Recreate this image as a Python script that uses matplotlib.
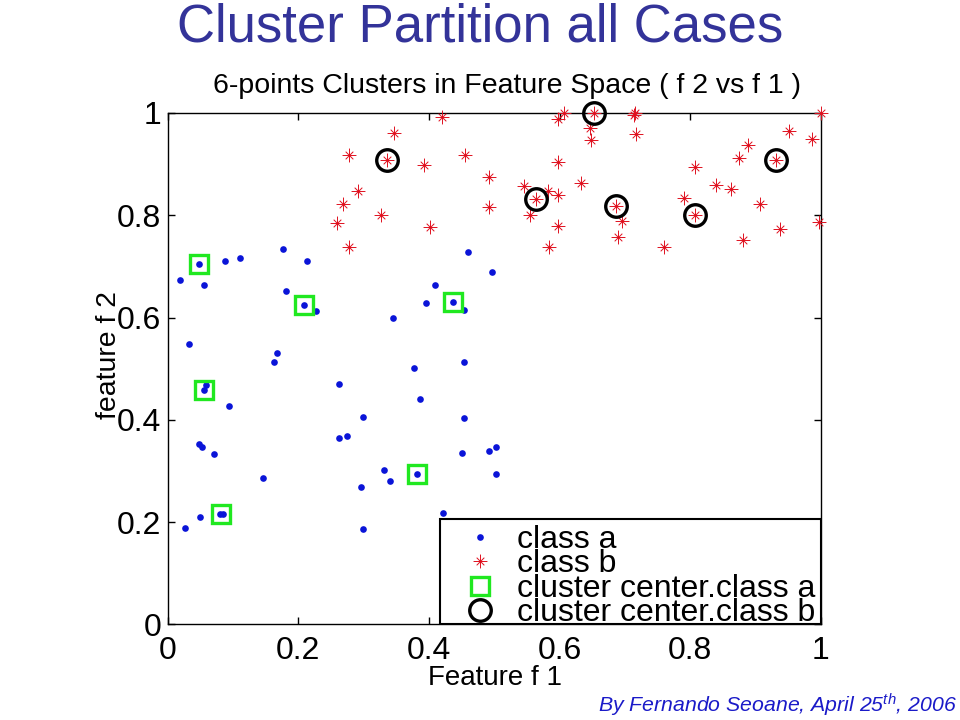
import matplotlib
matplotlib.use('Agg')
import matplotlib.pyplot as plt
from matplotlib.patches import Rectangle
from matplotlib.path import Path

plt.rcParams['font.family'] = ['Liberation Sans', 'DejaVu Sans']
plt.rcParams['mathtext.fontset'] = 'custom'
plt.rcParams['mathtext.it'] = 'Liberation Sans:italic'
plt.rcParams['mathtext.rm'] = 'Liberation Sans:italic'

# class a points
a_x = [.048, .087, .110, .177, .213, .460, .497, .019, .055, .181, .409, .209, .227, .395, .437, .453, .345,
       .032, .167, .163, .453, .377, .262, .059, .055, .386, .094, .299, .453, .262, .274, .048, .053, .071,
       .450, .492, .502, .331, .382, .502, .146, .340, .296, .421, .080, .084, .050, .027, .299]
a_y = [.705, .710, .716, .734, .710, .728, .690, .673, .664, .652, .664, .625, .613, .628, .631, .614, .599,
       .549, .531, .513, .514, .502, .470, .469, .458, .441, .427, .405, .404, .365, .368, .353, .347, .333,
       .336, .339, .347, .301, .295, .295, .286, .280, .269, .218, .216, .216, .210, .189, .187]

# class b points
b_x = [.4205, .347, .277, .336, .393, .456, .492, .597, .292, .269, .260, .327, .278, .402, .492, .546, .564,
       .583, .598, .555, .597, .584, .597, .607, .633, .653, .647, .649, .716, .714, .717, .686, .695, .690,
       .760, .790, .808, .840, .863, .808, .875, .889, .931, .907, .881, .938, .952, .986, 1.0, .998]
b_y = [.9915, .961, .917, .909, .898, .917, .874, .904, .847, .822, .784, .800, .737, .778, .816, .857, .832,
       .847, .840, .800, .780, .737, .988, 1.0, .863, 1.0, .970, .947, 1.0, .996, .958, .818, .789, .757,
       .737, .833, .894, .859, .851, .800, .912, .938, .909, .822, .751, .773, .964, .950, 1.0, .786]

# cluster centers
ca_x = [.048, .209, .437, .055, .382, .082]
ca_y = [.705, .625, .631, .458, .295, .216]
cb_x = [.336, .564, .653, .686, .808, .931]
cb_y = [.909, .832, 1.0, .818, .800, .909]

tick_vals = [0, .2, .4, .6, .8, 1]
tick_labels = ['0', '0.2', '0.4', '0.6', '0.8', '1']
legend_labels = ['class a', 'class b', 'cluster center.class a', 'cluster center.class b']

W, H = 960, 720
fig = plt.figure(figsize=(9.6, 7.2), dpi=100)
ax = fig.add_axes([167.7 / W, 1 - 624.4 / H, 653 / W, 511.4 / H])

# matlab style asterisk
asterisk = Path([(-1, 0), (1, 0), (0, -1), (0, 1), (-.55, -.55), (.55, .55), (-.55, .55), (.55, -.55)],
                [Path.MOVETO, Path.LINETO] * 4)

h1, = ax.plot(a_x, a_y, ls='none', marker='o', ms=4.8, color='#0a14d8', mew=0, clip_on=False, zorder=3)
h2, = ax.plot(b_x, b_y, ls='none', marker=asterisk, ms=10, mec='#e0101e', mfc='none', mew=0.7,
              clip_on=False, zorder=3)
h3, = ax.plot(ca_x, ca_y, ls='none', marker='s', ms=13.5, mec='#20e820', mfc='none', mew=2.4,
              clip_on=False, zorder=4)
h4, = ax.plot(cb_x, cb_y, ls='none', marker='o', ms=15.5, mec='black', mfc='none', mew=2.4,
              clip_on=False, zorder=4)

ax.set_xlim(0, 1)
ax.set_ylim(0, 1)
ax.set_xticks(tick_vals, tick_labels)
ax.set_yticks(tick_vals, tick_labels)
ax.tick_params(direction='in', top=True, right=True, length=5, width=1, labelsize=23)
ax.tick_params(axis='x', pad=8)
ax.tick_params(axis='y', pad=4.5)
for s in ax.spines.values():
    s.set_linewidth(1)

ax.set_xlabel('Feature f 1', fontsize=20)
ax.xaxis.set_label_coords(.501, -.104)
ax.xaxis.label.set_verticalalignment('center')
ax.set_ylabel('feature f 2', fontsize=20.4)
ax.yaxis.set_label_coords(-.09, .527)
ax.yaxis.label.set_verticalalignment('center')

# legend box drawn apart, the rows sit lower in it than legend() would put them
ax.add_patch(Rectangle((.417, 0), .583, .206, transform=ax.transAxes, fc='white', ec='black', lw=1.5, zorder=2))
leg = ax.legend([h1, h2, h3, h4], legend_labels, loc='lower right', bbox_to_anchor=(.9954, -.012), fontsize=23,
                labelspacing=-.18, borderpad=.08, borderaxespad=0, handletextpad=.36, handlelength=1.6,
                frameon=False)
leg.set_zorder(5)

fig.text(480 / W, 1 - 28 / H, 'Cluster Partition all Cases', color='#333399', fontsize=38,
         ha='center', va='center')
fig.text(507 / W, 1 - 86 / H, '6-points Clusters in Feature Space ( f 2 vs f 1 )', color='black',
         fontsize=20.5, ha='center', va='center')
fig.text(957 / W, 1 - 705 / H, r'By Fernando Seoane, April 25$^{th}$, 2006', color='#1a1ac8',
         fontsize=15.3, style='italic', ha='right', va='center')

fig.savefig('out.png', dpi=100)
